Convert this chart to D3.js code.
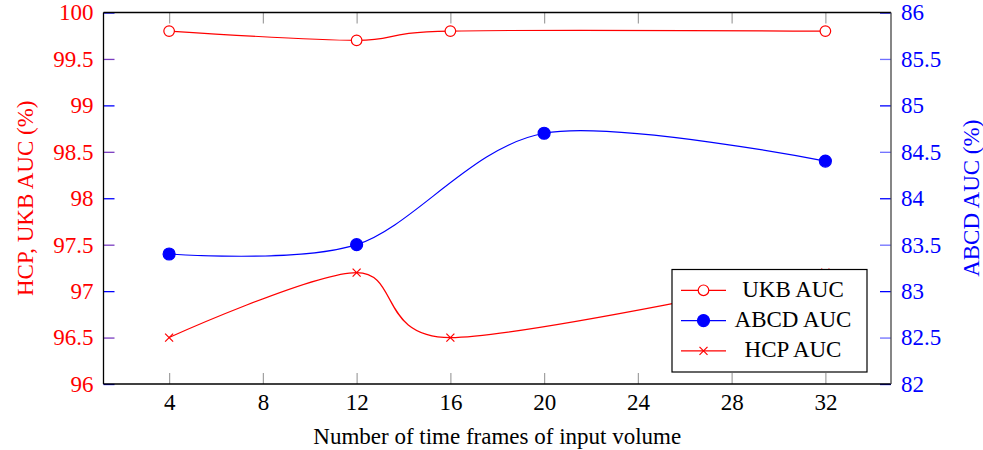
<!DOCTYPE html>
<html>
<head>
<meta charset="utf-8">
<script src="https://cdn.jsdelivr.net/npm/d3@7"></script>
<style>
  body { margin: 0; background: #fff; }
</style>
</head>
<body>
<div id="chart"></div>
<script>
// data
const frameTicks = [4, 8, 12, 16, 20, 24, 28, 32];
const leftTicks = [96, 96.5, 97, 97.5, 98, 98.5, 99, 99.5, 100];
const rightTicks = [82, 82.5, 83, 83.5, 84, 84.5, 85, 85.5, 86];

const ukbFrames = [4, 12, 16, 32];
const ukbAUC = [99.8, 99.7, 99.8, 99.8];
const abcdFrames = [4, 12, 20, 32];
const abcdAUC = [83.4, 83.5, 84.7, 84.4];
const hcpFrames = [4, 12, 16, 32];
const hcpAUC = [96.5, 97.2, 96.5, 97.2];

const W = 983, H = 450;
const margin = { top: 12.5, right: 92, bottom: 66, left: 103.5 };
const w = W - margin.left - margin.right;
const h = H - margin.top - margin.bottom;
const RED = "#ff0000", BLUE = "#0000ff";
const FONT = "'Liberation Serif', 'Times New Roman', 'DejaVu Serif', serif";

const svg = d3.select("#chart").append("svg")
    .attr("width", W).attr("height", H)
    .attr("font-family", FONT).attr("font-size", 23);
const g = svg.append("g")
    .attr("transform", `translate(${margin.left},${margin.top})`);

const x = d3.scaleLinear().domain([1.2, 34.8]).range([0, w]);
const yL = d3.scaleLinear().domain([96, 100]).range([h, 0]);
const yR = d3.scaleLinear().domain([82, 86]).range([h, 0]);

function fixAxis(a, color) {
    a.attr("font-family", FONT).attr("font-size", 23);
    a.select(".domain").remove();
    a.selectAll(".tick text").attr("fill", color);
}

// x axes (bottom with labels, top ticks only)
const xb = g.append("g")
    .attr("transform", `translate(0,${h})`)
    .call(d3.axisBottom(x).tickValues(frameTicks).tickSize(-11).tickPadding(10).tickFormat(d3.format("d")));
const xt = g.append("g")
    .call(d3.axisTop(x).tickValues(frameTicks).tickSize(-11).tickFormat(""));
fixAxis(xb, "#000");
fixAxis(xt, "#000");
[xb, xt].forEach(a => a.selectAll(".tick line").attr("stroke", "#a0a0a0").attr("stroke-width", 1.2));

// left axis
const yl = g.append("g")
    .call(d3.axisLeft(yL).tickValues(leftTicks).tickSize(-11).tickPadding(10).tickFormat(d => d));
fixAxis(yl, RED);
yl.selectAll(".tick line")
    .attr("stroke", d => Number.isInteger(d) ? BLUE : "#7a3cc0")
    .attr("stroke-width", 1.3);

// right axis
const yr = g.append("g")
    .attr("transform", `translate(${w},0)`)
    .call(d3.axisRight(yR).tickValues(rightTicks).tickSize(-11).tickPadding(10).tickFormat(d => d));
fixAxis(yr, BLUE);
yr.selectAll(".tick line")
    .attr("stroke", d => Number.isInteger(d) ? BLUE : "#6f6fff")
    .attr("stroke-width", 1.3);

// frame
g.append("line").attr("x1", 0).attr("x2", w).attr("y1", 0).attr("y2", 0).attr("stroke", "#000").attr("stroke-width", 1.3);
g.append("line").attr("x1", 0).attr("x2", w).attr("y1", h).attr("y2", h).attr("stroke", "#000").attr("stroke-width", 1.3);
g.append("line").attr("x1", 0).attr("x2", 0).attr("y1", 0).attr("y2", h).attr("stroke", "#000").attr("stroke-width", 1.3);
g.append("line").attr("x1", w).attr("x2", w).attr("y1", 0).attr("y2", h).attr("stroke", "#444").attr("stroke-width", 1.3);

// axis titles
svg.append("text")
    .attr("transform", `translate(33,${margin.top + h / 2}) rotate(-90)`)
    .attr("text-anchor", "middle")
    .attr("fill", RED)
    .text("HCP, UKB AUC (%)");
svg.append("text")
    .attr("transform", `translate(979,${margin.top + h / 2}) rotate(-90)`)
    .attr("text-anchor", "middle")
    .attr("fill", BLUE)
    .text("ABCD AUC (%)");
svg.append("text")
    .attr("x", margin.left + w / 2)
    .attr("y", 444)
    .attr("text-anchor", "middle")
    .attr("fill", "#000")
    .text("Number of time frames of input volume");

const curve = d3.curveCardinal.tension(0.08);

function series(xs, ys, yScale, color) {
    const pts = xs.map((d, i) => [d, ys[i]]);
    g.append("path")
        .datum(pts)
        .attr("fill", "none")
        .attr("stroke", color)
        .attr("stroke-width", 1.2)
        .attr("d", d3.line().x(d => x(d[0])).y(d => yScale(d[1])).curve(curve));
    return pts;
}

function circleMark(sel, cx, cy, filled, color) {
    sel.append("circle").attr("cx", cx).attr("cy", cy)
        .attr("r", filled ? 6 : 5.3)
        .attr("fill", filled ? color : "#fff")
        .attr("stroke", color).attr("stroke-width", 1.2);
}
function crossMark(sel, cx, cy, color) {
    const s = 4;
    sel.append("path")
        .attr("d", `M${cx - s},${cy - s}L${cx + s},${cy + s}M${cx - s},${cy + s}L${cx + s},${cy - s}`)
        .attr("stroke", color).attr("stroke-width", 1.2).attr("fill", "none");
}

const ukb = series(ukbFrames, ukbAUC, yL, RED);
ukb.forEach(d => circleMark(g, x(d[0]), yL(d[1]), false, RED));
const abcd = series(abcdFrames, abcdAUC, yR, BLUE);
abcd.forEach(d => circleMark(g, x(d[0]), yR(d[1]), true, BLUE));
const hcp = series(hcpFrames, hcpAUC, yL, RED);
hcp.forEach(d => crossMark(g, x(d[0]), yL(d[1]), RED));

// legend
const lg = svg.append("g").attr("transform", "translate(672,269.5)");
lg.append("rect").attr("width", 195).attr("height", 102.5)
    .attr("fill", "#fff").attr("stroke", "#000").attr("stroke-width", 1.2);
const entries = [
    { name: "UKB AUC", color: RED, mark: "open" },
    { name: "ABCD AUC", color: BLUE, mark: "filled" },
    { name: "HCP AUC", color: RED, mark: "cross" }
];
entries.forEach((e, i) => {
    const cy = 20.8 + i * 30.3;
    lg.append("line").attr("x1", 9).attr("x2", 54).attr("y1", cy).attr("y2", cy)
        .attr("stroke", e.color).attr("stroke-width", 1.2);
    if (e.mark === "cross") crossMark(lg, 31.5, cy, e.color);
    else circleMark(lg, 31.5, cy, e.mark === "filled", e.color);
    lg.append("text").attr("x", 121).attr("y", cy + 6.5)
        .attr("text-anchor", "middle").attr("fill", "#000")
        .text(e.name);
});
</script>
</body>
</html>
